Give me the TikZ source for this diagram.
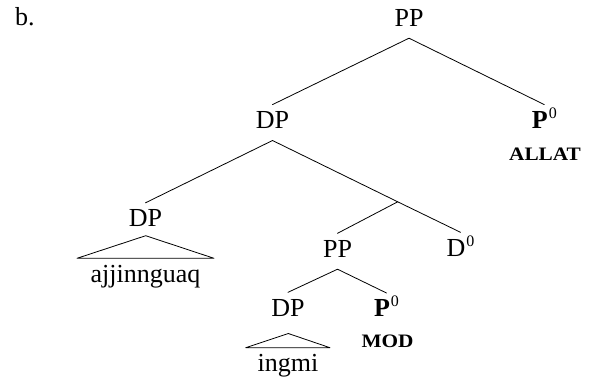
\documentclass[tikz,border=0pt]{standalone}
\usepackage{fontspec}
\usepackage{graphicx}
\setmainfont{Liberation Serif}
\usetikzlibrary{calc}
\newcommand{\featsc}[1]{\scalebox{1.12}[1]{\fontsize{19}{20}\selectfont\bfseries #1}}
\newcommand{\supzero}{\kern1pt\raisebox{10pt}{\fontsize{16}{16}\selectfont 0}}
\tikzset{
  lab/.style={anchor=base, inner sep=0pt, text height=23.5pt, text depth=12pt},
  plain/.style={anchor=base, inner sep=0pt},
  edge/.style={line width=0.8pt, line cap=round, line join=round}
}
\begin{document}
\begin{tikzpicture}[x=1pt, y=-1pt, font=\fontsize{26}{30}\selectfont]
\useasboundingbox (0,0) rectangle (593,381);
% labels
\node[plain, anchor=base west] (ex) at (15,25.5) {b.};
\node[lab] (PP0) at (409,26) {PP};
\node[lab] (DP1) at (272.5,128.3) {DP};
\node[lab] (P0a) at (544.3,128.3) {\textbf{P}\supzero};
\node[plain] (allat) at (545,160) {\featsc{ALLAT}};
\node[lab] (DP2) at (145.5,226.5) {DP};
\node[plain] (aj) at (145.5,282) {ajjinnguaq};
\node[lab] (PP3) at (337.5,257) {PP};
\node[lab] (D0) at (460.5,256) {D\supzero};
\node[lab] (DP4) at (288,316) {DP};
\node[lab] (P0b) at (386.5,316.7) {\textbf{P}\supzero};
\node[plain] (mod) at (387.5,347) {\featsc{MOD}};
\node[plain] (ing) at (288,371.7) {ingmi};
\coordinate (X) at (397.7,201.8);
% branches
\draw[edge] (DP1.north) -- (PP0.south) -- (P0a.north);
\draw[edge] (DP2.north) -- (DP1.south) -- (X) -- (D0.north);
\draw[edge] (X) -- (PP3.north);
\draw[edge] (DP4.north) -- (PP3.south) -- (P0b.north);
% triangles
\draw[edge] ($(DP2.base)+(0.2,9.2)$) -- ($(aj.base)+(68.5,-23.7)$) -- ($(aj.base)+(-68.5,-23.7)$) -- cycle;
\draw[edge] ($(DP4.base)+(0.3,17.5)$) -- ($(ing.base)+(42,-24)$) -- ($(ing.base)+(-42.3,-24)$) -- cycle;
\end{tikzpicture}
\end{document}
